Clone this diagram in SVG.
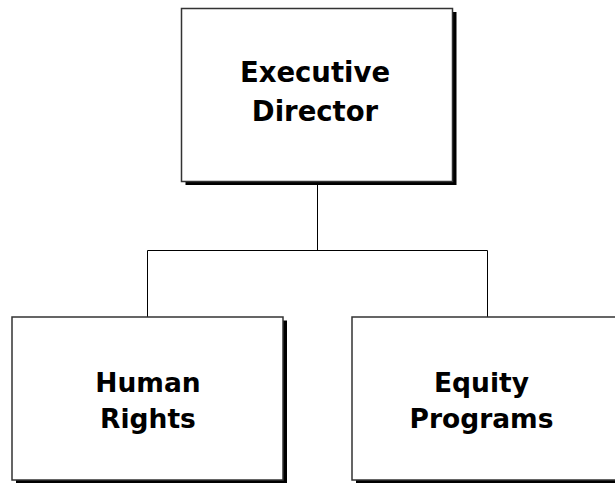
<svg xmlns="http://www.w3.org/2000/svg" width="615" height="483" viewBox="0 0 615 483">
<style>
.box{fill:#fff;stroke:#333;stroke-width:1.5}
.shadow{fill:#000}
.lbl{font-family:"DejaVu Sans",Verdana,sans-serif;font-weight:bold;font-size:26.5px;fill:#000;text-anchor:middle}
.top{font-size:27.5px}
.conn{fill:none;stroke:#000;stroke-width:1}
</style>
<rect width="615" height="483" fill="#fff"/>
<g id="connectors">
<path class="conn" d="M317.5,182 V250.5 M147.5,317 V250.5 H487.5 V317"/>
</g>
<g id="executive-director">
<rect class="shadow" x="185.5" y="12" width="271" height="173"/>
<rect class="box" x="181.5" y="8.5" width="271" height="173"/>
<text class="lbl top" x="315" y="81.5">Executive</text>
<text class="lbl top" x="315" y="120.5">Director</text>
</g>
<g id="human-rights">
<rect class="shadow" x="16" y="320.5" width="271" height="163"/>
<rect class="box" x="12" y="317" width="271" height="163"/>
<text class="lbl" x="148" y="392">Human</text>
<text class="lbl" x="148" y="428">Rights</text>
</g>
<g id="equity-programs">
<rect class="shadow" x="356" y="320.5" width="271" height="163"/>
<rect class="box" x="352" y="317" width="271" height="163"/>
<text class="lbl" x="481.5" y="392">Equity</text>
<text class="lbl" x="481.5" y="428">Programs</text>
</g>
</svg>
